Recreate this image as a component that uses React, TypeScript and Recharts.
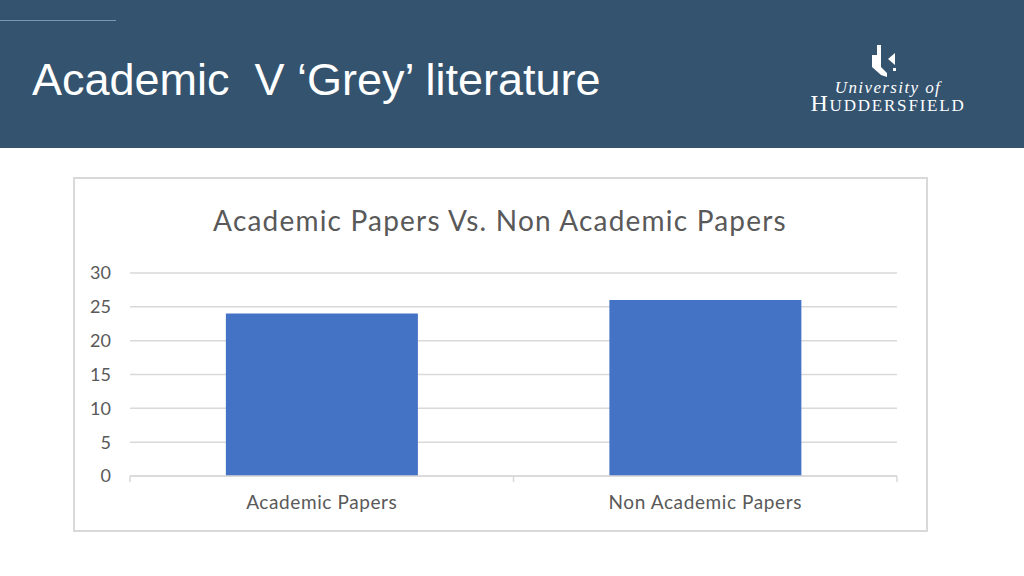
import React from "react";
import { BarChart, Bar, XAxis, YAxis, CartesianGrid } from "recharts";

const categories = ["Academic Papers", "Non Academic Papers"];
const paperCounts = [24, 26];
const yTicks = [0, 5, 10, 15, 20, 25, 30];

const data = categories.map((name, i) => ({ name, value: paperCounts[i] }));

const GRID = "#d9d9d9";
const TEXT = "#595959";
const FONT = "Lato, 'Open Sans', sans-serif";

const CategoryTick = (props: any) => {
  const { x, y, payload, index, visibleTicksCount } = props;
  const half = payload && typeof payload.offset === "number" ? payload.offset : 0;
  const isLast = index === visibleTicksCount - 1;
  return (
    <g>
      <line x1={x - half} x2={x - half} y1={y} y2={y + 6} stroke={GRID} strokeWidth={1.5} />
      {isLast && (
        <line x1={x + half} x2={x + half} y1={y} y2={y + 6} stroke={GRID} strokeWidth={1.5} />
      )}
      <text
        x={x}
        y={y + 33}
        textAnchor="middle"
        fill={TEXT}
        fontSize={19}
        letterSpacing={0.6}
        fontFamily={FONT}
      >
        {payload.value}
      </text>
    </g>
  );
};

const Logo = () => (
  <div style={{ position: "absolute", left: 800, top: 40, width: 176, height: 80 }}>
    <svg width={176} height={40} style={{ position: "absolute", left: 0, top: 0 }}>
      <polygon points="77,5 81,5 81,27 87,33 87,37 81,35 72,27 72,15 77,15" fill="#ffffff" />
      <polygon points="95,13 95,25 88,19" fill="#ffffff" />
      <rect x={93} y={28} width={3} height={3} fill="#ffffff" />
    </svg>
    <div
      style={{
        position: "absolute",
        left: 0,
        top: 39.5,
        width: 176,
        textAlign: "center",
        color: "#ffffff",
        fontFamily: "'Liberation Serif', 'DejaVu Serif', serif",
        fontStyle: "italic",
        fontSize: 17,
        letterSpacing: 1.4,
        lineHeight: "15px",
      }}
    >
      University of
    </div>
    <div
      style={{
        position: "absolute",
        left: 0,
        top: 54.5,
        width: 176,
        textAlign: "center",
        color: "#ffffff",
        fontFamily: "'Liberation Serif', 'DejaVu Serif', serif",
        fontVariant: "small-caps",
        fontSize: 24,
        letterSpacing: 1.8,
        lineHeight: "16px",
      }}
    >
      Huddersfield
    </div>
  </div>
);

export default function App() {
  return (
    <div
      style={{
        position: "absolute",
        left: 0,
        top: 0,
        width: 1024,
        height: 576,
        background: "#ffffff",
        overflow: "hidden",
      }}
    >
      <div style={{ position: "absolute", left: 0, top: 0, width: 1024, height: 148, background: "#34536f" }} />
      <div style={{ position: "absolute", left: 0, top: 20, width: 116, height: 1, background: "#7d97b3" }} />
      <div
        style={{
          position: "absolute",
          left: 32,
          top: 56,
          color: "#ffffff",
          fontFamily: "'Liberation Sans', Arial, sans-serif",
          fontSize: 45,
          lineHeight: "48px",
          whiteSpace: "pre",
        }}
      >
        {"Academic  V \u2018Grey\u2019 literature"}
      </div>
      <Logo />
      <div
        style={{
          position: "absolute",
          left: 73,
          top: 177,
          width: 851,
          height: 351,
          border: `2px solid ${GRID}`,
          boxSizing: "content-box",
        }}
      />
      <div
        style={{
          position: "absolute",
          left: 73,
          top: 200,
          width: 854,
          textAlign: "center",
          color: TEXT,
          fontFamily: FONT,
          fontSize: 28,
          letterSpacing: 1.2,
          lineHeight: "40px",
        }}
      >
        Academic Papers Vs. Non Academic Papers
      </div>
      <div style={{ position: "absolute", left: 0, top: 0 }}>
        <BarChart
          width={1024}
          height={576}
          data={data}
          margin={{ top: 273, right: 127, bottom: 70, left: 73 }}
          barCategoryGap="25%"
        >
          <CartesianGrid vertical={false} stroke={GRID} strokeWidth={1.5} />
          <XAxis
            dataKey="name"
            height={30}
            axisLine={{ stroke: GRID, strokeWidth: 1.5 }}
            tickLine={false}
            tickSize={0}
            tickMargin={0}
            tick={<CategoryTick />}
            interval={0}
          />
          <YAxis
            width={57}
            domain={[0, 30]}
            ticks={yTicks}
            axisLine={false}
            tickLine={false}
            tickSize={0}
            tickMargin={19}
            tick={{ fill: TEXT, fontSize: 18, fontFamily: FONT }}
          />
          <Bar dataKey="value" fill="#4472c4" isAnimationActive={false} />
        </BarChart>
      </div>
    </div>
  );
}
